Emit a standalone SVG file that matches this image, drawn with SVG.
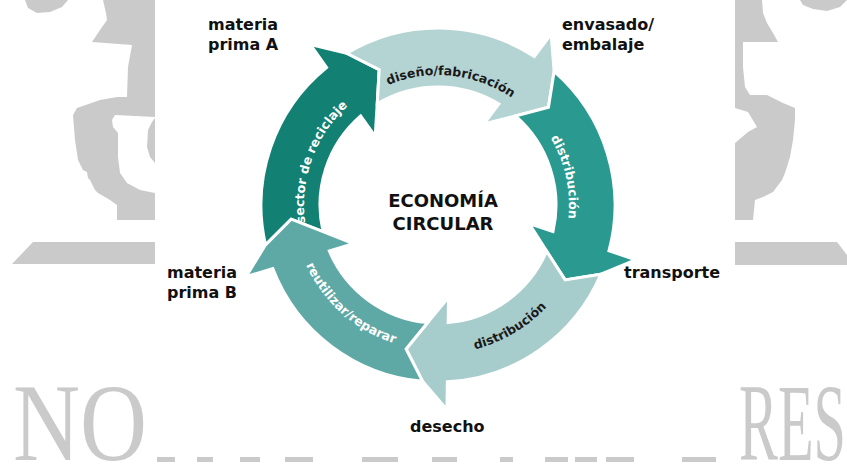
<svg xmlns="http://www.w3.org/2000/svg" width="847" height="466" viewBox="0 0 847 466">
<style>
.wm{fill:#cacaca}
.arrow{stroke:#fff;stroke-width:3;stroke-linejoin:miter}
.lbl{font-family:"DejaVu Sans","Liberation Sans",sans-serif;font-weight:bold;font-size:16px;fill:#111}
.big{font-size:18px}
.arc{font-family:"DejaVu Sans","Liberation Sans",sans-serif;font-weight:bold;font-size:12.5px}
.wmt{font-family:"Liberation Serif","Times New Roman",serif;font-size:110px;fill:#cacaca}
</style>
<defs>
<path id="arrowShape" d="M0,-177 A177,177 0 0 1 159.05,-77.66 L185.03,-88.25 L168.34,-54.7 L145.03,-26.88 L112.22,-36.46 L80.94,-45.8 L104.24,-55.3 A118,118 0 0 0 0,-118 L19.25,-146.24 Z"/>
<path id="p-diseno" d="M325.42,140 A130,130 0 0 1 561.64,164.83"/>
<path id="p-sector" d="M344.92,301.39 A134,134 0 0 1 428.65,71.33"/>
<path id="p-dist1" d="M477.61,80.13 A131,131 0 0 1 526.33,301.74"/>
<path id="p-dist2" d="M364.86,334.81 A149,149 0 0 0 586.99,203.44"/>
<path id="p-reut" d="M295.91,176.09 A145,145 0 0 0 484.01,342.51"/>
</defs>
<rect width="847" height="466" fill="#fff"/>
<g id="watermark">
<path class="wm" d="M25,0 L28,8 L37,13 L50,12 L62,7 L68,0 Z"/>
<path class="wm" d="M103,0 L155,0 L155,220 L117,220 L117,205 L110,200 L98,193 L95,190 L90,180 L88,178 L87,172 L83,170 L78,160 L75,140 L73,115 L77,108 L100,100 L117,97 L127,97 L128,67 L132,45 L92,42 L100,30 L107,20 L106,13 Z"/>
<path fill="#fff" d="M115,115 L155,117 L155,193 L140,190 L127,183 L120,173 L118,157 L118,133 L113,127 L112,120 Z"/>
<path class="wm" d="M155,118 L152,122 L148,130 L147,147 L150,157 L155,163 Z"/>
<path class="wm" d="M800,0 L803,5 L813,9 L827,11 L840,7 L847,0 Z"/>
<path class="wm" d="M735,0 L762,0 L763,13 L767,23 L773,33 L778,42 L743,42 L743,67 L745,87 L750,95 L767,95 L783,103 L795,108 L795,120 L793,140 L790,157 L785,173 L782,180 L773,192 L763,197 L755,200 L753,220 L735,220 Z"/>
<path fill="#fff" d="M735,108 L748,112 L757,127 L748,132 L735,143 Z"/>
<path class="wm" d="M33,242 L155,242 L155,264 L12,264 Z"/>
<path class="wm" d="M735,242 L837,242 L847,255 L847,265 L735,265 Z"/>
<text class="wmt" x="13" y="460" textLength="134" lengthAdjust="spacingAndGlyphs">NO</text>
<text class="wmt" x="739" y="460" textLength="107" lengthAdjust="spacingAndGlyphs">RES</text>
<path class="wm" d="M157,457h18v5h-18z M197,457h16v5h-16z M240,457h20v5h-20z M285,457h28v5h-28z M362,457h36v5h-36z M432,457h25v5h-25z M500,457h13v5h-13z M545,457h23v5h-23z M575,457h22v5h-22z M606,457h28v5h-28z M682,457h34v5h-34z"/>
</g>
<rect id="panel" x="155" y="0" width="580" height="457" fill="#fff"/>
<g id="connectors">
<use id="a-sector" href="#arrowShape" class="arrow" fill="#128072" transform="translate(438 205) rotate(257)"/>
<use id="a-diseno" href="#arrowShape" class="arrow" fill="#b4d4d3" transform="translate(438 205) rotate(329)"/>
<use id="a-dist1" href="#arrowShape" class="arrow" fill="#2a9a91" transform="translate(438 205) rotate(41)"/>
<use id="a-dist2" href="#arrowShape" class="arrow" fill="#a7cccc" transform="translate(438 205) rotate(113)"/>
<use id="a-reut" href="#arrowShape" class="arrow" fill="#5ea9a6" transform="translate(438 205) rotate(185)"/>
<text class="arc" fill="#1a1a1a"><textPath href="#p-diseno" startOffset="50%" text-anchor="middle">diseño/fabricación</textPath></text>
<text class="arc" fill="#fff"><textPath href="#p-sector" startOffset="50%" text-anchor="middle">sector de reciclaje</textPath></text>
<text class="arc" fill="#fff"><textPath href="#p-dist1" startOffset="50%" text-anchor="middle">distribución</textPath></text>
<text class="arc" fill="#1a1a1a"><textPath href="#p-dist2" startOffset="50%" text-anchor="middle">distribución</textPath></text>
<text class="arc" fill="#fff"><textPath href="#p-reut" startOffset="50%" text-anchor="middle">reutilizar/reparar</textPath></text>
</g>
<g id="center">
<text class="lbl big" x="443" y="207" text-anchor="middle">ECONOMÍA</text>
<text class="lbl big" x="443" y="230" text-anchor="middle">CIRCULAR</text>
</g>
<g id="materiaA"><text class="lbl" x="208" y="30">materia</text><text class="lbl" x="208" y="50">prima A</text></g>
<g id="envasado"><text class="lbl" x="562" y="30">envasado/</text><text class="lbl" x="562" y="50">embalaje</text></g>
<g id="transporte"><text class="lbl" x="624" y="278">transporte</text></g>
<g id="materiaB"><text class="lbl" x="167" y="278">materia</text><text class="lbl" x="167" y="298">prima B</text></g>
<g id="desecho"><text class="lbl" x="410" y="432">desecho</text></g>
</svg>
